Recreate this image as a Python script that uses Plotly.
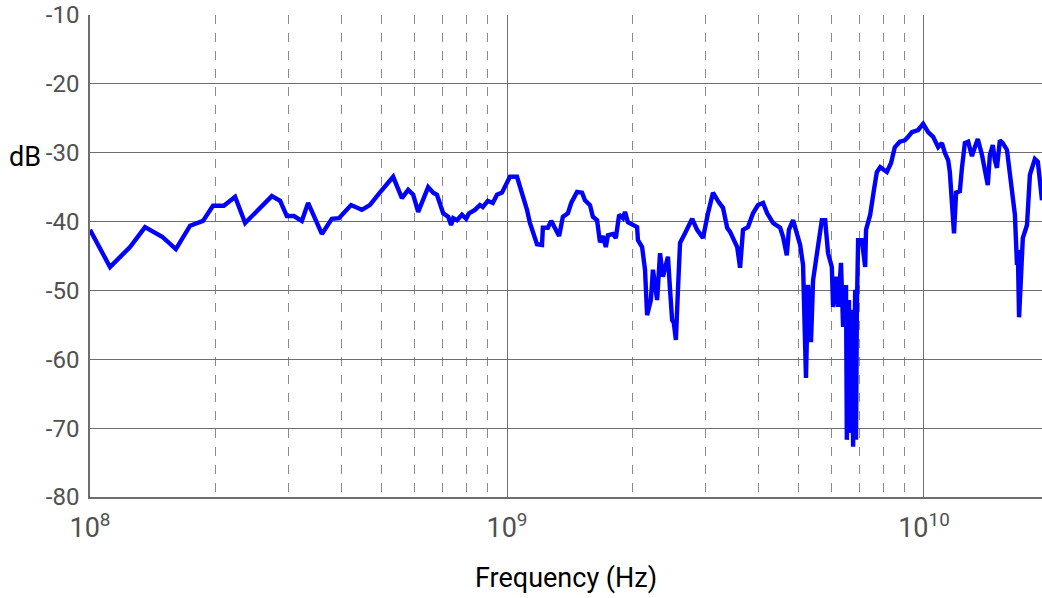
import numpy as np
import plotly.graph_objects as go

# log10 of frequency in Hz
log10_freq_hz = [
    8.000, 8.048, 8.096, 8.132, 8.173, 8.206, 8.240, 8.271, 8.295, 8.321,
    8.348, 8.372, 8.436, 8.456, 8.472, 8.489, 8.508, 8.523, 8.556, 8.580,
    8.597, 8.626, 8.652, 8.671, 8.695, 8.727, 8.748, 8.763, 8.775, 8.787,
    8.811, 8.823, 8.832, 8.847, 8.859, 8.866, 8.871, 8.880, 8.892, 8.902,
    8.909, 8.923, 8.935, 8.942, 8.954, 8.966, 8.976, 8.988, 9.007, 9.024,
    9.048, 9.055, 9.072, 9.084, 9.086, 9.098, 9.106, 9.115, 9.125, 9.134,
    9.146, 9.154, 9.168, 9.180, 9.187, 9.199, 9.206, 9.216, 9.223, 9.230,
    9.237, 9.242, 9.254, 9.261, 9.269, 9.278, 9.283, 9.290, 9.302, 9.312,
    9.314, 9.324, 9.331, 9.336, 9.345, 9.350, 9.360, 9.367, 9.374, 9.386,
    9.391, 9.396, 9.400, 9.405, 9.410, 9.415, 9.427, 9.444, 9.456, 9.463,
    9.470, 9.482, 9.494, 9.508, 9.518, 9.528, 9.535, 9.542, 9.552, 9.559,
    9.566, 9.578, 9.590, 9.602, 9.614, 9.624, 9.638, 9.655, 9.662, 9.671,
    9.676, 9.686, 9.695, 9.703, 9.710, 9.712, 9.717, 9.722, 9.729, 9.734,
    9.743, 9.755, 9.763, 9.770, 9.779, 9.782, 9.789, 9.794, 9.801, 9.806,
    9.813, 9.815, 9.820, 9.823, 9.827, 9.830, 9.835, 9.837, 9.839, 9.842,
    9.851, 9.859, 9.861, 9.871, 9.880, 9.887, 9.895, 9.911, 9.921, 9.930,
    9.942, 9.954, 9.962, 9.971, 9.986, 9.998, 10.010, 10.022, 10.034, 10.043,
    10.050, 10.058, 10.062, 10.065, 10.070, 10.072, 10.077, 10.086, 10.091, 10.098,
    10.106, 10.115, 10.122, 10.129, 10.139, 10.146, 10.153, 10.158, 10.165, 10.170,
    10.175, 10.182, 10.189, 10.199, 10.206, 10.213, 10.218, 10.223, 10.225, 10.228,
    10.233, 10.237, 10.247, 10.254, 10.266, 10.273, 10.283,
]

# magnitude in dB
magnitude_db = [
    -41.2, -46.6, -43.7, -40.8, -42.2, -44.0, -40.6, -39.9, -37.7, -37.7,
    -36.4, -40.2, -36.3, -37.0, -39.2, -39.2, -39.9, -37.3, -41.8, -39.6,
    -39.5, -37.6, -38.3, -37.6, -35.8, -33.5, -36.6, -35.4, -36.1, -38.6,
    -35.0, -35.8, -36.1, -38.8, -39.3, -40.5, -39.5, -39.8, -39.0, -39.6,
    -38.8, -38.3, -37.6, -37.9, -37.0, -37.3, -36.1, -35.8, -33.5, -33.5,
    -38.3, -40.2, -43.3, -43.4, -40.9, -40.9, -39.9, -40.9, -42.1, -39.3,
    -38.8, -37.3, -35.7, -35.8, -36.9, -37.6, -39.3, -39.8, -43.0, -42.1,
    -43.7, -42.0, -41.8, -42.4, -39.0, -39.5, -38.6, -40.1, -40.5, -40.8,
    -42.7, -43.7, -47.0, -53.6, -51.4, -47.0, -51.4, -44.6, -48.0, -45.1,
    -49.9, -54.3, -54.7, -57.2, -49.9, -43.1, -41.7, -39.6, -41.2, -41.7,
    -42.4, -38.8, -35.8, -37.2, -38.0, -40.9, -41.5, -42.4, -43.7, -46.7,
    -41.2, -40.8, -38.8, -37.6, -37.3, -38.8, -40.2, -40.9, -42.2, -44.9,
    -41.2, -39.8, -42.0, -43.4, -46.3, -51.8, -62.7, -49.2, -57.5, -48.5,
    -44.6, -39.8, -39.8, -44.6, -46.6, -52.4, -48.0, -52.4, -46.0, -55.3,
    -49.2, -71.7, -51.4, -70.7, -52.8, -72.7, -49.9, -71.7, -52.8, -42.7,
    -42.7, -46.6, -41.2, -39.0, -35.4, -32.8, -32.1, -32.8, -31.5, -29.2,
    -28.4, -28.2, -27.7, -27.0, -26.7, -25.8, -27.0, -27.7, -29.2, -28.6,
    -30.0, -31.1, -32.8, -36.4, -40.2, -41.7, -35.8, -35.6, -32.2, -28.6,
    -28.4, -30.5, -29.2, -28.0, -30.3, -32.8, -34.7, -30.3, -28.9, -31.1,
    -32.2, -28.2, -28.6, -29.6, -33.2, -36.9, -39.0, -46.3, -44.1, -53.9,
    -45.9, -42.4, -40.5, -33.2, -30.9, -31.3, -36.9,
]

y_ticks = [-80, -70, -60, -50, -40, -30, -20, -10]
y_tick_text = ["-80", "-70", "-60", "-50", "-40", "-30", "-20", "-10"]
x_major_ticks = [1e8, 1e9, 1e10]
x_major_text = ["10<sup>8</sup>", "10<sup>9</sup>", "10<sup>10</sup>"]
x_minor_ticks = [m * d for d in (1e8, 1e9, 1e10) for m in range(2, 10)]

freq_hz = 10 ** np.array(log10_freq_hz)

FONT = "Roboto, Liberation Sans, sans-serif"

fig = go.Figure()
fig.add_trace(go.Scatter(
    x=freq_hz, y=magnitude_db, mode="lines",
    line=dict(color="#0000FF", width=4.4),
    showlegend=False,
))

fig.update_layout(
    width=1042, height=598, autosize=False,
    margin=dict(l=90, r=0, t=15, b=101),
    paper_bgcolor="white", plot_bgcolor="white",
    font=dict(family=FONT, size=24, color="#505050"),
    xaxis=dict(
        type="log", range=[8, 10.283], automargin=False,
        tickmode="array", tickvals=x_major_ticks, ticktext=x_major_text,
        tickfont=dict(family=FONT, size=27, color="#505050"),
        showgrid=True, gridcolor="#6e6e6e", gridwidth=1,
        showline=True, linecolor="#6e6e6e", linewidth=1.5, mirror=False,
        ticks="outside", ticklen=6, tickcolor="rgba(0,0,0,0)", zeroline=False,
        minor=dict(tickmode="array", tickvals=x_minor_ticks, showgrid=True,
                   gridcolor="#8a8a8a", griddash="dash", gridwidth=1, ticks=""),
    ),
    yaxis=dict(
        range=[-80, -10], automargin=False,
        tickmode="array", tickvals=y_ticks, ticktext=y_tick_text,
        tickfont=dict(family=FONT, size=24, color="#505050"),
        showgrid=True, gridcolor="#6e6e6e", gridwidth=1.2,
        showline=True, linecolor="#6e6e6e", linewidth=1.5, mirror=False,
        ticks="outside", ticklen=4, tickcolor="rgba(0,0,0,0)", zeroline=False,
    ),
    annotations=[
        dict(text="dB", xref="paper", yref="paper", x=-0.068, y=0.705,
             xanchor="center", yanchor="middle", showarrow=False,
             font=dict(family=FONT, size=27, color="#000000")),
        dict(text="Frequency (Hz)", xref="paper", yref="paper", x=0.5, y=-0.168,
             xanchor="center", yanchor="middle", showarrow=False,
             font=dict(family=FONT, size=27, color="#000000")),
    ],
)

post = (
    "document.body.style.margin='0';"
    "document.body.style.overflow='hidden';"
    "var gd=document.getElementById('{plot_id}');"
    "Plotly.relayout(gd,{width:1042,height:598});"
)

fig.write_html("out.html", config={"responsive": False, "displayModeBar": False},
               default_width="1042px", default_height="598px",
               post_script=post)
